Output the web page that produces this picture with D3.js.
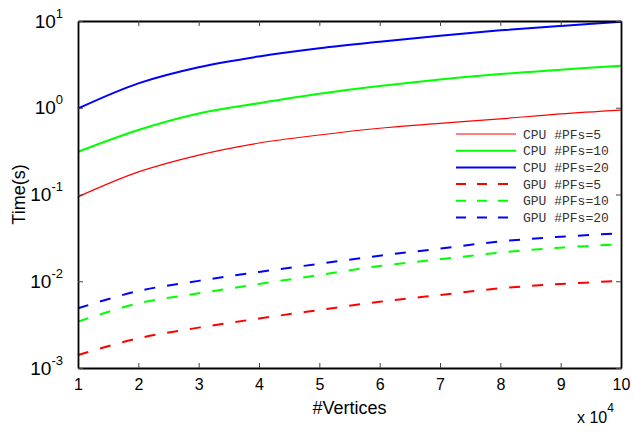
<!DOCTYPE html>
<html>
<head>
<meta charset="utf-8">
<script src="https://cdn.jsdelivr.net/npm/d3@7"></script>
<style>
  body { margin: 0; background: #fff; }
  svg { display: block; }
</style>
</head>
<body>
<div id="chart"></div>
<script>
// values, x in units of 10^4 vertices
var vertices = [1, 2, 3, 4, 5, 6, 7, 8, 9, 10];
var cpu5  = [0.094, 0.182, 0.285, 0.392, 0.485, 0.58, 0.66, 0.745, 0.85, 0.94];
var cpu10 = [0.311, 0.555, 0.86, 1.13, 1.45, 1.78, 2.12, 2.45, 2.74, 3.05];
var cpu20 = [0.98, 1.91, 2.93, 3.90, 4.85, 5.78, 6.78, 7.8, 8.78, 9.8];
var gpu5  = [0.00141, 0.0022, 0.00292, 0.00372, 0.00466, 0.0058, 0.00695, 0.0083, 0.0093, 0.0101];
var gpu10 = [0.00342, 0.00557, 0.00726, 0.0093, 0.0118, 0.0150, 0.0179, 0.0214, 0.0244, 0.0267];
var gpu20 = [0.00488, 0.00772, 0.0101, 0.0128, 0.0159, 0.0197, 0.0238, 0.0288, 0.0326, 0.0357];

var seriesNames = ["CPU #PFs=5", "CPU #PFs=10", "CPU #PFs=20", "GPU #PFs=5", "GPU #PFs=10", "GPU #PFs=20"];
var xTicks = [1, 2, 3, 4, 5, 6, 7, 8, 9, 10];
var yTicks = [1e-3, 1e-2, 1e-1, 1, 10];
var yExps = ["-3", "-2", "-1", "0", "1"];

var series = [
    { name: seriesNames[0], values: cpu5,  color: "#ff0000", width: 1.2, dash: null },
    { name: seriesNames[1], values: cpu10, color: "#00ff00", width: 2,   dash: null },
    { name: seriesNames[2], values: cpu20, color: "#0000ff", width: 2,   dash: null },
    { name: seriesNames[3], values: gpu5,  color: "#ff0000", width: 2,   dash: "11,12" },
    { name: seriesNames[4], values: gpu10, color: "#00ff00", width: 2,   dash: "11,12" },
    { name: seriesNames[5], values: gpu20, color: "#0000ff", width: 2,   dash: "11,12" }
];

var svgWidth = 633;
var svgHeight = 432;
var plotLeft = 78, plotRight = 621, plotTop = 21, plotBottom = 368;

var svg = d3.select("#chart")
    .append("svg")
    .attr("width", svgWidth)
    .attr("height", svgHeight)
    .style("font-family", "'Liberation Sans', Arial, sans-serif");

var xScale = d3.scaleLinear().domain([1, 10]).range([plotLeft, plotRight]);
var yScale = d3.scaleLog().domain([1e-3, 10]).range([plotBottom, plotTop]);

// lines
var line = d3.line()
    .x((d, i) => xScale(vertices[i]))
    .y(d => yScale(d))
    .curve(d3.curveCatmullRom.alpha(0.5));

svg.append("g")
    .selectAll("path")
    .data(series)
    .enter()
    .append("path")
    .attr("d", d => line(d.values))
    .attr("fill", "none")
    .attr("stroke", d => d.color)
    .attr("stroke-width", d => d.width)
    .attr("stroke-dasharray", d => d.dash);

// axes (box with inward ticks)
var bottomAxis = d3.axisBottom(xScale).tickValues(xTicks).tickFormat(d3.format("d"))
    .tickSizeInner(-5).tickSizeOuter(0).tickPadding(11);
var topAxis = d3.axisTop(xScale).tickValues(xTicks).tickFormat("")
    .tickSizeInner(-5).tickSizeOuter(0);
var leftAxis = d3.axisLeft(yScale).tickValues(yTicks).tickFormat(() => "10")
    .tickSizeInner(-5).tickSizeOuter(0).tickPadding(15);
var rightAxis = d3.axisRight(yScale).tickValues(yTicks).tickFormat("")
    .tickSizeInner(-5).tickSizeOuter(0);

function styleAxis(g) {
    g.select(".domain").attr("stroke", "#000").attr("stroke-width", 1.8);
    g.selectAll(".tick line").attr("stroke", "#444").attr("stroke-width", 1);
    g.selectAll(".tick text").attr("fill", "#000");
}

svg.append("g").attr("transform", `translate(0, ${plotBottom})`).call(bottomAxis)
    .call(styleAxis)
    .selectAll(".tick text").style("font-size", "16px");

svg.append("g").attr("transform", `translate(0, ${plotTop})`).call(topAxis).call(styleAxis);
svg.append("g").attr("transform", `translate(${plotRight}, 0)`).call(rightAxis).call(styleAxis);

var yAxisG = svg.append("g").attr("transform", `translate(${plotLeft}, 0)`).call(leftAxis).call(styleAxis);
yAxisG.selectAll(".tick text")
    .style("font-size", "19px")
    .each(function (d, i) {
        var t = d3.select(this);
        t.text(null);
        t.append("tspan").text("10");
        t.append("tspan").attr("dy", "-10").style("font-size", "13px").text(yExps[i]);
    });

// axis labels
svg.append("text")
    .attr("x", (plotLeft + plotRight) / 2)
    .attr("y", 414)
    .attr("text-anchor", "middle")
    .style("font-size", "18px")
    .text("#Vertices");

svg.append("text")
    .attr("transform", `translate(25, ${(plotTop + plotBottom) / 2}) rotate(-90)`)
    .attr("text-anchor", "middle")
    .style("font-size", "18px")
    .text("Time(s)");

var mult = svg.append("text")
    .attr("x", 577)
    .attr("y", 423)
    .style("font-size", "16px");
mult.append("tspan").text("x 10");
mult.append("tspan").attr("dy", "-11").style("font-size", "12px").text("4");

// legend
var legend = svg.append("g")
    .style("font-family", "'Liberation Mono', 'Courier New', monospace")
    .style("font-size", "13px");

var items = legend.selectAll("g")
    .data(series)
    .enter()
    .append("g")
    .attr("transform", (d, i) => `translate(0, ${134 + i * 16.7})`);

items.append("line")
    .attr("x1", 456).attr("x2", 516)
    .attr("stroke", d => d.color)
    .attr("stroke-width", d => d.width)
    .attr("stroke-dasharray", d => d.dash ? "10,11" : null);

items.append("text")
    .attr("x", 523)
    .attr("dy", "0.35em")
    .attr("fill", "#333")
    .text(d => d.name);
</script>
</body>
</html>
